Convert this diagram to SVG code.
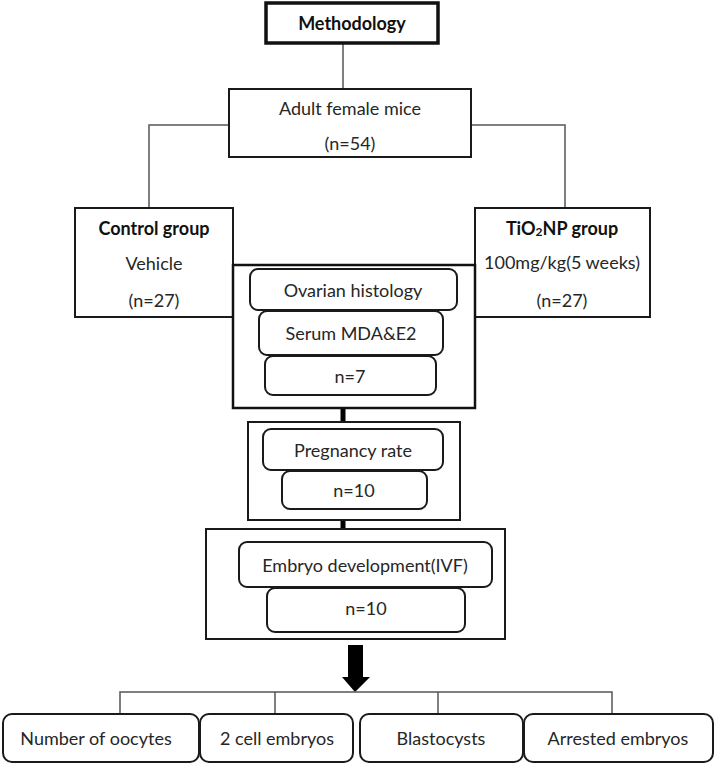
<svg xmlns="http://www.w3.org/2000/svg" width="715" height="764" viewBox="0 0 715 764">
<style>
text{font-family:Lato,"Open Sans","Liberation Sans",sans-serif;font-size:18px;fill:#262626;text-anchor:middle;dominant-baseline:central}
.b{font-weight:bold;fill:#111}
.box{fill:#fff;stroke:#1a1a1a;stroke-width:2}
.rb{fill:#fff;stroke:#1a1a1a;stroke-width:2}
.thin{fill:none;stroke:#555;stroke-width:1.5}
.thick{fill:none;stroke:#000;stroke-width:5}
</style>
<rect width="715" height="764" fill="#fff"/>
<g id="connectors">
<line class="thin" x1="343" y1="43" x2="343" y2="89"/>
<polyline class="thin" points="229,125 149,125 149,208"/>
<polyline class="thin" points="471,125 565,125 565,208"/>
<line class="thick" x1="343" y1="408" x2="343" y2="422"/>
<line class="thick" x1="343" y1="520" x2="343" y2="530"/>
<polygon points="348,645 363,645 363,677 370,677 355,692 342,677 348,677" fill="#000"/>
<polyline class="thin" points="120,713 120,692 612,692 612,713"/>
<line class="thin" x1="275" y1="692" x2="275" y2="713"/>
<line class="thin" x1="438" y1="692" x2="438" y2="713"/>
</g>
<g id="methodology">
<rect x="266" y="3" width="172" height="40" fill="#fff" stroke="#111" stroke-width="3.5"/>
<text class="b" x="352" y="23" font-size="20">Methodology</text>
</g>
<g id="adult">
<rect class="box" x="229" y="89" width="242" height="68"/>
<text x="350" y="108">Adult female mice</text>
<text x="350" y="143">(n=54)</text>
</g>
<g id="control">
<rect class="box" x="75" y="208" width="158" height="109"/>
<text class="b" x="154" y="228">Control group</text>
<text x="154" y="263" font-size="15">Vehicle</text>
<text x="154" y="300">(n=27)</text>
</g>
<g id="tio2">
<rect class="box" x="475" y="208" width="175" height="109"/>
<text class="b" x="562" y="228">TiO<tspan font-size="12" dy="3">2</tspan><tspan dy="-3">NP group</tspan></text>
<text x="562" y="262" font-size="15.2">100mg/kg(5 weeks)</text>
<text x="562" y="300">(n=27)</text>
</g>
<g id="histology-group">
<rect x="233" y="265" width="242" height="143" fill="#fff" stroke="#111" stroke-width="2.5"/>
<rect class="rb" x="250" y="269" width="207" height="41" rx="8"/>
<text x="353" y="290">Ovarian histology</text>
<rect class="rb" x="259" y="311" width="184" height="44" rx="8"/>
<text x="351" y="333">Serum MDA&amp;E2</text>
<rect class="rb" x="265" y="356" width="171" height="39" rx="8"/>
<text x="350" y="376">n=7</text>
</g>
<g id="pregnancy-group">
<rect class="box" x="248" y="422" width="212" height="98"/>
<rect class="rb" x="263" y="429" width="180" height="41" rx="8"/>
<text x="353" y="450">Pregnancy rate</text>
<rect class="rb" x="282" y="471" width="145" height="38" rx="8"/>
<text x="354" y="490">n=10</text>
</g>
<g id="embryo-group">
<rect class="box" x="206" y="529" width="299" height="110"/>
<rect class="rb" x="239" y="542" width="253" height="45" rx="8"/>
<text x="365" y="565">Embryo development(IVF)</text>
<rect class="rb" x="267" y="588" width="198" height="44" rx="8"/>
<text x="366" y="608">n=10</text>
</g>
<g id="oocytes">
<rect class="rb" x="3" y="714" width="196" height="48" rx="9"/>
<text x="96" y="738">Number of oocytes</text>
</g>
<g id="two-cell">
<rect class="rb" x="200" y="714" width="153" height="48" rx="9"/>
<text x="277" y="738">2 cell embryos</text>
</g>
<g id="blastocysts">
<rect class="rb" x="360" y="714" width="163" height="48" rx="9"/>
<text x="441" y="738">Blastocysts</text>
</g>
<g id="arrested">
<rect class="rb" x="524" y="714" width="189" height="48" rx="9"/>
<text x="618" y="738">Arrested embryos</text>
</g>
</svg>
